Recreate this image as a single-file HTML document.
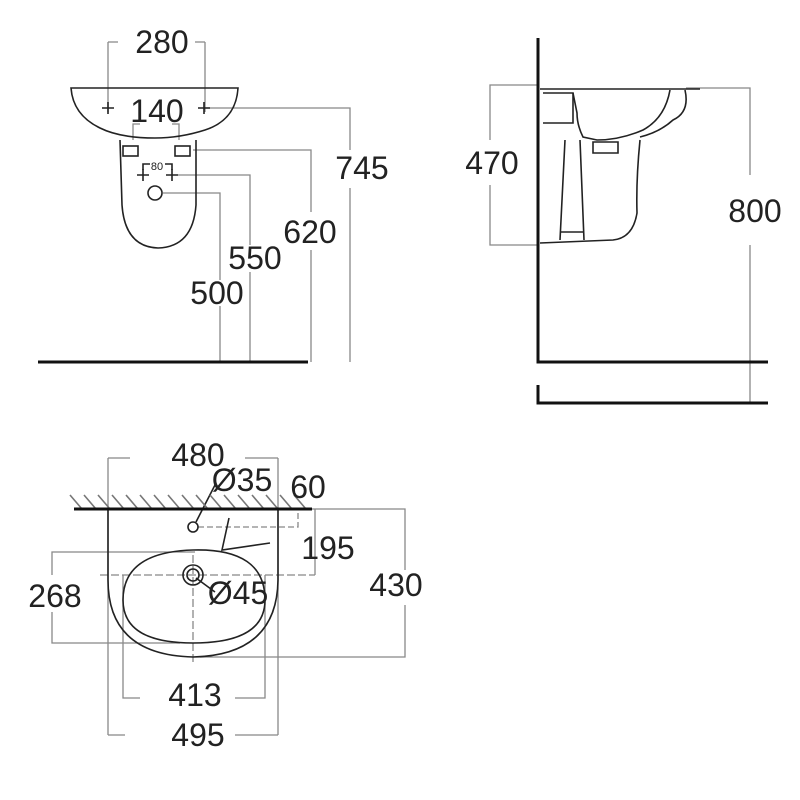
<!DOCTYPE html>
<html><head><meta charset="utf-8"><style>
html,body{margin:0;padding:0;background:#fff;}
svg{display:block}
text{font-family:"Liberation Sans",sans-serif;font-size:32px;fill:#222;}
</style></head><body>
<svg width="800" height="800" viewBox="0 0 800 800" xmlns="http://www.w3.org/2000/svg">
<g fill="none" stroke="#888" stroke-width="1.3">
<path d="M108,42 H118 M195,42 H205 M108,42 V112 M205,42 V112"/>
<path d="M133,140 V124 H140 M179,140 V124 H172"/>
<path d="M205,108 H350 V150 M350,188 V362"/>
<path d="M193,150 H311 V212 M311,250 V362"/>
<path d="M178,175 H250 V245 M250,272 V362"/>
<path d="M163,193 H220 V280 M220,306 V362"/>
<path d="M538,85 H490 V140 M490,185 V245 H538"/>
<path d="M686,88 H750 V175 M750,245 V403"/>
<path d="M108,458 H130 M245,458 H278 M108,458 V735 M278,458 V735"/>
<path d="M108,735 H125 M235,735 H278"/>
<path d="M123,575 V698 H140 M265,575 V698 H235"/>
<path d="M312,509 H405 V570 M405,605 V657 H200"/>
<path d="M195,552 H52 V575 M52,612 V643 H180"/>
<path d="M315,509 V575"/>
<path d="M198,527 H298 V509" stroke-dasharray="6,3"/>
<path d="M100,575 H315" stroke-dasharray="8,3"/>
<path d="M193,555 V662" stroke-dasharray="8,3"/>
</g>
<g fill="none" stroke="#222" stroke-width="1.6">
<path d="M71,88 L238,88 Q236,120 205,130 Q180,138 155,138 Q120,138 100,128 Q73,115 71,88 Z"/>
<path d="M120,140 L122,205 Q125,247 158,248 Q193,247 196,205 L196,140"/>
<rect x="123" y="146" width="15" height="10"/><rect x="175" y="146" width="15" height="10"/>
<path d="M102,108 H114 M108,102 V114 M198,108 H210 M204,102 V114"/>
<path d="M137,175 H149 M143,169 V181 M166,175 H178 M172,169 V181"/>
<path d="M143,170 V164 H150 M172,170 V164 H165"/>
<circle cx="155" cy="193" r="7"/>
<path d="M540,89 H700"/>
<path d="M685,90 Q690,112 673,120 Q660,132 640,137"/>
<path d="M670,90 Q665,118 643,130 Q620,140 597,140 L583,137 Q577,125 577,113 L573,93"/>
<path d="M593,142 H618 V153 H593 Z"/>
<path d="M640,140 Q636,180 637,213 Q633,238 613,240 L540,243"/>
<path d="M565,140 L560,240 M580,140 L584,240 M560,232 H584"/>
<path d="M543,93 H573 V123 H543"/>
<path d="M108,510 L108,580 Q108,655 193,657 Q277,655 278,580 L278,510"/>
<path d="M193,550 Q265,548 265,600 Q265,643 193,643 Q123,643 123,600 Q123,552 193,550 Z"/>
<circle cx="193" cy="575" r="10"/><circle cx="193" cy="575" r="6"/>
<circle cx="193" cy="527" r="5"/>
<path d="M196,522 L215,485 M196,578 L215,592"/>
<path d="M229,518 L222,550 L270,543"/>
<path d="M82,509 L70,495 M96,509 L84,495 M110,509 L98,495 M124,509 L112,495 M138,509 L126,495 M152,509 L140,495 M166,509 L154,495 M180,509 L168,495 M194,509 L182,495 M208,509 L196,495 M222,509 L210,495 M236,509 L224,495 M250,509 L238,495 M264,509 L252,495 M278,509 L266,495 M292,509 L280,495 M306,509 L294,495" stroke="#777"/>
</g>
<g stroke="#111" stroke-width="3" fill="none">
<path d="M38,362 H308"/>
<path d="M538,38 V362 H768"/>
<path d="M538,385 V403 H768"/>
<path d="M74,509 H312"/>
</g>
<g>
<text x="162" y="53" text-anchor="middle">280</text>
<text x="157" y="122" text-anchor="middle">140</text>
<text x="157" y="170" text-anchor="middle" style="font-size:11px">80</text>
<text x="362" y="179" text-anchor="middle">745</text>
<text x="310" y="243" text-anchor="middle">620</text>
<text x="255" y="269" text-anchor="middle">550</text>
<text x="217" y="304" text-anchor="middle">500</text>
<text x="492" y="174" text-anchor="middle">470</text>
<text x="755" y="222" text-anchor="middle">800</text>
<text x="198" y="466" text-anchor="middle">480</text>
<text x="242" y="491" text-anchor="middle">Ø35</text>
<text x="308" y="498" text-anchor="middle">60</text>
<text x="328" y="559" text-anchor="middle">195</text>
<text x="238" y="604" text-anchor="middle">Ø45</text>
<text x="396" y="596" text-anchor="middle">430</text>
<text x="55" y="607" text-anchor="middle">268</text>
<text x="195" y="706" text-anchor="middle">413</text>
<text x="198" y="746" text-anchor="middle">495</text>
</g>
</svg>
</body></html>
